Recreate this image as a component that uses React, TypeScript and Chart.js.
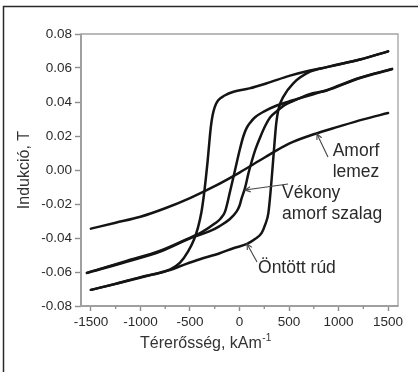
import React, { useEffect, useRef } from 'react';
import { Chart, registerables } from 'chart.js';

Chart.register(...registerables);

// ---- axis ticks ----
const xTickValues = [-1500, -1000, -500, 0, 500, 1000, 1500];
const xMinorTickValues = [-1250, -750, -250, 250, 750, 1250];
const yTickValues = [-0.08, -0.06, -0.04, -0.02, 0, 0.02, 0.04, 0.06, 0.08];

// ---- Öntött rúd (cast rod) loop ----
const ontottUpperH = [-1500, -1250, -1000, -800, -700, -600, -520, -460, -420, -385, -360, -340, -322, -305, -290, -272, -250, -215, -150, -60, 100, 275, 510, 712, 881, 1217, 1500];
const ontottUpperB = [-0.0705, -0.067, -0.063, -0.0605, -0.0585, -0.0545, -0.048, -0.041, -0.034, -0.025, -0.015, -0.005, 0.005, 0.016, 0.025, 0.032, 0.037, 0.041, 0.0438, 0.046, 0.048, 0.051, 0.0555, 0.0585, 0.0605, 0.065, 0.0698];
const ontottLowerH = [-1500, -1217, -881, -712, -550, -400, -200, -62, 76, 160, 224, 260, 291, 310, 325, 340, 355, 370, 392, 442, 543, 712, 881, 1217, 1500];
const ontottLowerB = [-0.0705, -0.0665, -0.0615, -0.059, -0.0555, -0.0525, -0.049, -0.046, -0.0435, -0.0405, -0.037, -0.032, -0.0255, -0.015, -0.005, 0.006, 0.017, 0.027, 0.0355, 0.043, 0.051, 0.0578, 0.0605, 0.065, 0.0698];

// ---- Vékony amorf szalag (thin amorphous ribbon) loop ----
const szalagUpperH = [-1540, -1140, -800, -470, -380, -250, -190, -146, -96, -45, 5, 40, 70, 110, 157, 250, 358, 540, 880, 1200, 1540];
const szalagUpperB = [-0.0605, -0.0535, -0.0475, -0.039, -0.0365, -0.0315, -0.0285, -0.0245, -0.0128, 0.0, 0.0125, 0.02, 0.0245, 0.028, 0.031, 0.0345, 0.0375, 0.041, 0.047, 0.054, 0.0595];
const szalagLowerH = [-1540, -1140, -800, -470, -300, -200, -100, -30, 0, 22, 56, 90, 123, 160, 207, 260, 310, 375, 450, 540, 700, 880, 1200, 1540];
const szalagLowerB = [-0.0605, -0.054, -0.048, -0.0395, -0.036, -0.033, -0.029, -0.0245, -0.021, -0.0165, -0.0105, -0.002, 0.005, 0.012, 0.019, 0.026, 0.031, 0.0345, 0.038, 0.0405, 0.0445, 0.0468, 0.0538, 0.0593];

// ---- Amorf lemez (amorphous plate) ----
const lemezH = [-1500, -1250, -1000, -750, -500, -250, 0, 250, 500, 750, 1000, 1250, 1500];
const lemezB = [-0.0345, -0.031, -0.0275, -0.0225, -0.0165, -0.0095, -0.0015, 0.0072, 0.0155, 0.021, 0.0255, 0.0298, 0.0335];

// ---- annotations (data coordinates) ----
const annotationLabels = [
  { text: 'Amorf', h: 1176, b: 0.0082, align: 'center' },
  { text: 'lemez', h: 1176, b: -0.0041, align: 'center' },
  { text: 'Vékony', h: 429, b: -0.0165, align: 'left' },
  { text: 'amorf szalag', h: 429, b: -0.0288, align: 'left' },
  { text: 'Öntött rúd', h: 187, b: -0.0606, align: 'left' },
];
const pointerFromH = [893, 490, 177];
const pointerFromB = [0.0077, -0.0082, -0.0541];
const pointerToH = [782, 56, 76];
const pointerToB = [0.0212, -0.0118, -0.0435];

const yTitle = 'Indukció, T';
const xTitleMain = 'Térerősség, kAm';
const xTitleSup = '-1';

const FONT = '"Liberation Sans", Arial, Helvetica, sans-serif';
const LINE_COLOR = '#141414';

const zip = (hs: number[], bs: number[]) => hs.map((h, i) => ({ x: h, y: bs[i] }));

const curveDataset = (hs: number[], bs: number[]) => ({
  data: zip(hs, bs),
  borderColor: LINE_COLOR,
  borderWidth: 2.5,
  pointRadius: 0,
  fill: false,
  cubicInterpolationMode: 'monotone' as const,
  borderCapStyle: 'round' as const,
  borderJoinStyle: 'round' as const,
});

const decorPlugin = {
  id: 'decor',
  beforeDatasetsDraw(chart: any) {
    const { ctx, chartArea } = chart;
    const { left, right, top, bottom } = chartArea;
    ctx.save();
    // plot box
    ctx.strokeStyle = '#a3a3a3';
    ctx.lineWidth = 1.3;
    ctx.beginPath();
    ctx.moveTo(left, top);
    ctx.lineTo(right, top);
    ctx.lineTo(right, bottom);
    ctx.stroke();
    ctx.lineWidth = 2;
    ctx.strokeStyle = '#a0a0a0';
    ctx.beginPath();
    ctx.moveTo(left, top - 0.6);
    ctx.lineTo(left, bottom);
    ctx.lineTo(right + 0.6, bottom);
    ctx.stroke();
    ctx.restore();
  },
  afterDraw(chart: any) {
    const { ctx, chartArea, scales } = chart;
    const xs = scales.x;
    const ys = scales.y;
    ctx.save();
    // outer frame (left & top)
    ctx.strokeStyle = '#2a2a2a';
    ctx.lineWidth = 1.5;
    ctx.beginPath();
    ctx.moveTo(3.5, chart.height);
    ctx.lineTo(3.5, 6.5);
    ctx.lineTo(chart.width, 6.5);
    ctx.stroke();

    // minor x ticks
    ctx.strokeStyle = '#8c8c8c';
    ctx.lineWidth = 1.3;
    xMinorTickValues.forEach((v) => {
      const px = xs.getPixelForValue(v);
      ctx.beginPath();
      ctx.moveTo(px, chartArea.bottom);
      ctx.lineTo(px, chartArea.bottom + 3);
      ctx.stroke();
    });

    // x title with superscript
    ctx.fillStyle = '#333';
    ctx.textBaseline = 'alphabetic';
    ctx.textAlign = 'left';
    ctx.font = `16px ${FONT}`;
    const tx = chartArea.left + 59;
    const ty = 348;
    ctx.fillText(xTitleMain, tx, ty);
    const w = ctx.measureText(xTitleMain).width;
    ctx.font = `10px ${FONT}`;
    ctx.fillText(xTitleSup, tx + w + 0.5, ty - 7);

    // annotation labels
    ctx.font = `17.5px ${FONT}`;
    ctx.fillStyle = '#2a2a2a';
    annotationLabels.forEach((a) => {
      ctx.textAlign = a.align as CanvasTextAlign;
      ctx.fillText(a.text, xs.getPixelForValue(a.h), ys.getPixelForValue(a.b));
    });

    // pointers with arrowheads
    ctx.strokeStyle = '#444';
    ctx.lineWidth = 1.1;
    pointerFromH.forEach((fh, i) => {
      const x0 = xs.getPixelForValue(fh);
      const y0 = ys.getPixelForValue(pointerFromB[i]);
      const x1 = xs.getPixelForValue(pointerToH[i]);
      const y1 = ys.getPixelForValue(pointerToB[i]);
      ctx.beginPath();
      ctx.moveTo(x0, y0);
      ctx.lineTo(x1, y1);
      ctx.stroke();
      const ang = Math.atan2(y0 - y1, x0 - x1);
      const L = 6;
      const spread = 0.45;
      ctx.beginPath();
      ctx.moveTo(x1 + L * Math.cos(ang + spread), y1 + L * Math.sin(ang + spread));
      ctx.lineTo(x1, y1);
      ctx.lineTo(x1 + L * Math.cos(ang - spread), y1 + L * Math.sin(ang - spread));
      ctx.stroke();
    });
    ctx.restore();
  },
};

export default function App() {
  const canvasRef = useRef<HTMLCanvasElement | null>(null);

  useEffect(() => {
    if (!canvasRef.current) return;
    const chart = new Chart(canvasRef.current, {
      type: 'line',
      data: {
        datasets: [
          curveDataset(ontottUpperH, ontottUpperB),
          curveDataset(ontottLowerH, ontottLowerB),
          curveDataset(szalagUpperH, szalagUpperB),
          curveDataset(szalagLowerH, szalagLowerB),
          curveDataset(lemezH, lemezB),
        ],
      },
      options: {
        responsive: false,
        animation: false,
        events: [],
        layout: { padding: { left: 0, right: 20, top: 34, bottom: 0 } },
        plugins: {
          legend: { display: false },
          tooltip: { enabled: false },
        },
        scales: {
          x: {
            type: 'linear',
            min: -1600,
            max: 1600,
            afterBuildTicks: (s: any) => {
              s.ticks = xTickValues.map((v) => ({ value: v }));
            },
            afterFit: (s: any) => {
              s.height = 66;
            },
            border: { display: false },
            grid: {
              drawOnChartArea: false,
              drawTicks: true,
              tickLength: 5,
              tickColor: '#8c8c8c',
              tickWidth: 1.4,
            },
            ticks: {
              padding: 3,
              color: '#2a2a2a',
              font: { family: FONT, size: 13.5 },
              maxRotation: 0,
              callback: (v: any) => String(v),
            },
            title: { display: false },
          },
          y: {
            type: 'linear',
            min: -0.08,
            max: 0.08,
            afterBuildTicks: (s: any) => {
              s.ticks = yTickValues.map((v) => ({ value: v }));
            },
            afterFit: (s: any) => {
              s.width = 81;
            },
            border: { display: false },
            grid: {
              drawOnChartArea: false,
              drawTicks: true,
              tickLength: 6,
              tickColor: '#8c8c8c',
              tickWidth: 1.4,
            },
            ticks: {
              padding: 3,
              color: '#2a2a2a',
              font: { family: FONT, size: 13.5 },
              callback: (v: any) => Number(v).toFixed(2),
            },
            title: {
              display: true,
              text: yTitle,
              color: '#333',
              font: { family: FONT, size: 16 },
              padding: { top: 15, bottom: 0 },
            },
          },
        },
      },
      plugins: [decorPlugin],
    });
    return () => chart.destroy();
  }, []);

  return (
    <div style={{ position: 'absolute', left: 0, top: 0, width: 418, height: 372, background: '#fff' }}>
      <canvas ref={canvasRef} width={418} height={372} style={{ display: 'block' }} />
    </div>
  );
}
